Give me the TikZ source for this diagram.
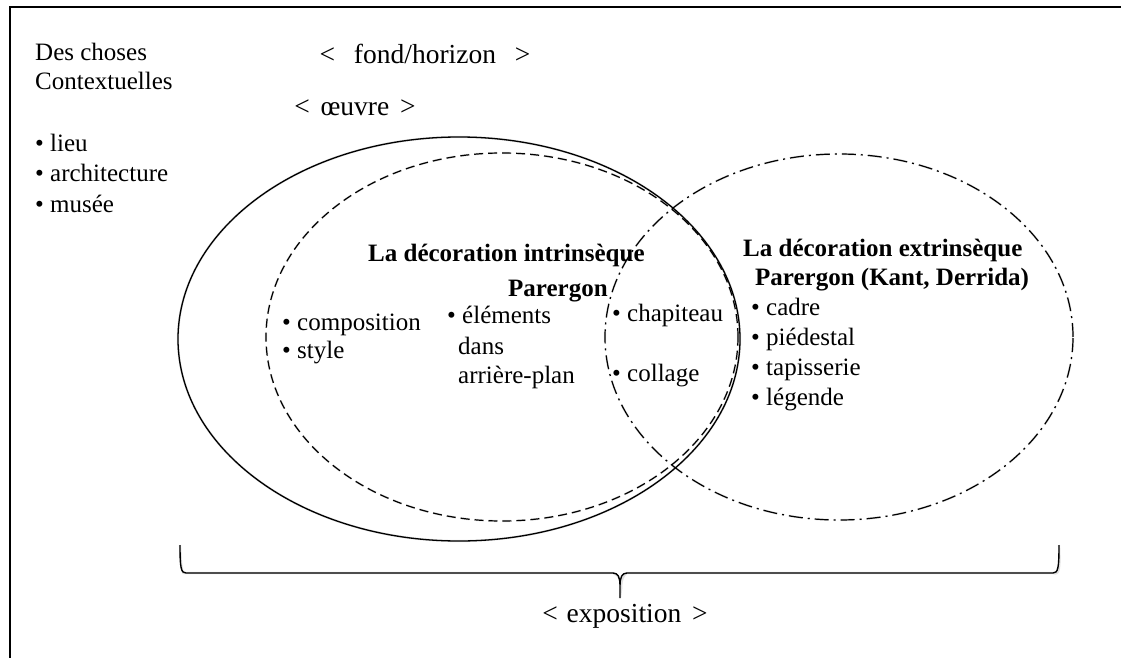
\documentclass[tikz,border=0pt]{standalone}
\usepackage{fontspec}
\setmainfont{Liberation Serif}
\begin{document}
\begin{tikzpicture}[x=1pt,y=-1pt,
  txt/.style={font=\fontsize{25}{30}\selectfont, inner sep=0pt, anchor=base west},
  btxt/.style={font=\fontsize{25}{30}\selectfont\bfseries, inner sep=0pt, anchor=base west},
  ctxt/.style={font=\fontsize{27.5}{32}\selectfont, inner sep=0pt, anchor=base},
  oeuvrering/.style={line width=1.3pt},
  intring/.style={line width=1.2pt, dash pattern=on 9pt off 5pt},
  extring/.style={line width=1.2pt, dash pattern=on 14pt off 5pt on 2pt off 5pt},
  shade/.style={line width=2.2pt, draw=black!12, shift={(1.2,2.2)}},
  brace/.style={line width=1.4pt},
  frameline/.style={line width=1.5pt}]
\useasboundingbox (0,0) rectangle (1121,658);
% frame (top and left only)
\coordinate (fbl) at (10,658);
\coordinate (ftl) at (10,7);
\coordinate (ftr) at (1121,7);
\draw[shade] (fbl) -- (ftl) -- (ftr);
\draw[frameline] (fbl) -- (ftl) -- (ftr);
% ellipses
\coordinate (oc) at (459,339);
\coordinate (ic) at (502,337);
\coordinate (ec) at (839,337);
\draw[shade] (oc) ellipse [x radius=281pt, y radius=202pt];
\draw[shade, dash pattern=on 9pt off 5pt] (ic) ellipse [x radius=236pt, y radius=184pt];
\draw[shade, dash pattern=on 14pt off 5pt on 2pt off 5pt] (ec) ellipse [x radius=234pt, y radius=183pt];
\draw[oeuvrering] (oc) ellipse [x radius=281pt, y radius=202pt];
\draw[intring] (ic) ellipse [x radius=236pt, y radius=184pt];
\draw[extring] (ec) ellipse [x radius=234pt, y radius=183pt];
% brace
\coordinate (bl) at (180,545);
\coordinate (bl2) at (186,573);
\coordinate (bm1) at (613,573);
\coordinate (bt) at (620,598);
\coordinate (bm2) at (627,573);
\coordinate (br2) at (1053,573);
\coordinate (br) at (1059,545);
\draw[shade] (bl) .. controls (180,568) and (181,573) .. (bl2) -- (bm1)
  .. controls (618,573) and (620,577) .. (620,586) -- (bt) -- (620,586)
  .. controls (620,577) and (622,573) .. (bm2) -- (br2)
  .. controls (1058,573) and (1059,568) .. (br);
\draw[brace] (bl) .. controls (180,568) and (181,573) .. (bl2) -- (bm1)
  .. controls (618,573) and (620,577) .. (620,586) -- (bt) -- (620,586)
  .. controls (620,577) and (622,573) .. (bm2) -- (br2)
  .. controls (1058,573) and (1059,568) .. (br);
% left texts
\node[txt] (t1) at (35,61) {Des choses};
\node[txt] (t2) at (35,90) {Contextuelles};
\node[txt] (t3) at (35,151) {• lieu};
\node[txt] (t4) at (35,181) {• architecture};
\node[txt] (t5) at (35,212) {• musée};
% labels
\node[ctxt] (fond) at (425,64) {<\hspace{12pt} fond/horizon \hspace{12pt}>};
\node[ctxt] (oeuvre) at (355,116) {<\hspace{4pt} œuvre \hspace{4pt}>};
\node[ctxt] (expo) at (625,622) {<\hspace{2pt} exposition \hspace{4pt}>};
% intrinsic
\node[btxt] (ih1) at (368,261) {La décoration intrinsèque};
\node[btxt] (ih2) at (508,296) {Parergon};
\node[txt] (ic1) at (282,330) {• composition};
\node[txt] (ic2) at (282,358) {• style};
\node[txt] (ie1) at (447,323) {• éléments};
\node[txt] (ie2) at (458,354) {dans};
\node[txt] (ie3) at (458,383) {arrière-plan};
\node[txt] (ch1) at (612,321) {• chapiteau};
\node[txt] (ch2) at (612,381) {• collage};
% extrinsic
\node[btxt] (eh1) at (743,256) {La décoration extrinsèque};
\node[btxt] (eh2) at (755,285) {Parergon (Kant, Derrida)};
\node[txt] (e1) at (751,315) {• cadre};
\node[txt] (e2) at (751,345) {• piédestal};
\node[txt] (e3) at (751,375) {• tapisserie};
\node[txt] (e4) at (751,405) {• légende};
\end{tikzpicture}
\end{document}
